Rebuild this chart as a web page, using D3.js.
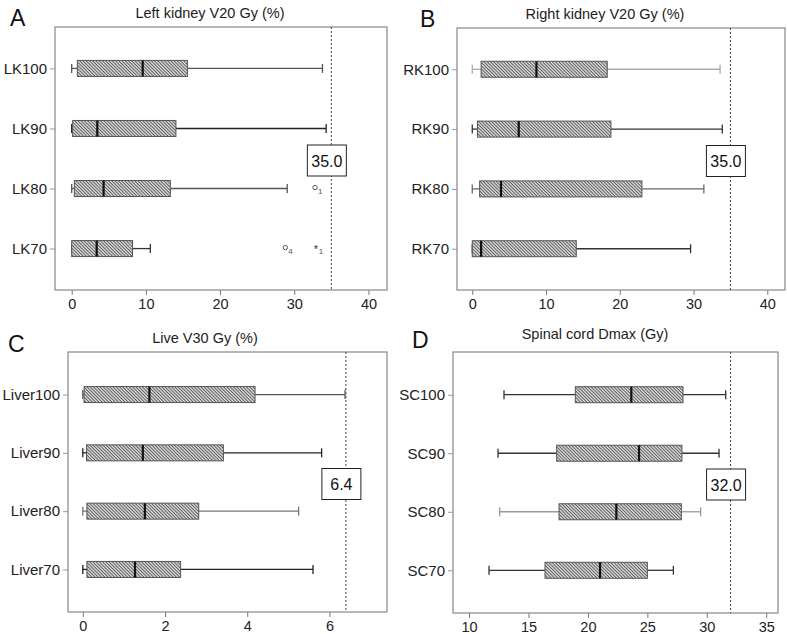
<!DOCTYPE html>
<html><head><meta charset="utf-8">
<script src="https://cdn.jsdelivr.net/npm/d3@7"></script>
<style>
body{margin:0;background:#fff;}
svg{display:block;font-family:"Liberation Sans",Arial,Helvetica,sans-serif;}
</style></head>
<body>
<svg id="chart" width="787" height="634"></svg>
<script>
// ---- Data ----
const lkCategories = ["LK100","LK90","LK80","LK70"];
const lkStats = [ // [min, q1, median, q3, max]
  [0, 0.76, 9.57, 15.6, 33.8],
  [0, 0.13, 3.45, 14.05, 34.3],
  [0, 0.35, 4.3, 13.3, 29.05],
  [0, 0.0, 3.37, 8.2, 10.6]
];
const lkOutliers = [ // [category, value, marker, label]
  ["LK80", 32.8, "o", "1"],
  ["LK70", 28.8, "o", "4"],
  ["LK70", 32.9, "*", "1"]
];
const rkCategories = ["RK100","RK90","RK80","RK70"];
const rkStats = [
  [0, 1.2, 8.7, 18.3, 33.6],
  [0, 0.7, 6.3, 18.8, 33.9],
  [0, 1.0, 3.9, 23.0, 31.4],
  [0, 0.0, 1.2, 14.1, 29.6]
];
const liverCategories = ["Liver100","Liver90","Liver80","Liver70"];
const liverStats = [
  [0, 0.03, 1.62, 4.19, 6.38],
  [0, 0.09, 1.46, 3.42, 5.81],
  [0, 0.10, 1.51, 2.82, 5.25],
  [0, 0.10, 1.27, 2.38, 5.60]
];
const scCategories = ["SC100","SC90","SC80","SC70"];
const scStats = [
  [12.94, 18.94, 23.65, 28.0, 31.59],
  [12.44, 17.37, 24.3, 27.91, 31.03],
  [12.58, 17.57, 22.39, 27.86, 29.48],
  [11.68, 16.39, 21.02, 25.0, 27.19]
];
const thresholds = [35.0, 35.0, 6.4, 32.0];
const titles = ["Left kidney V20 Gy (%)","Right kidney V20 Gy (%)","Live V30 Gy (%)","Spinal cord Dmax (Gy)"];
const letters = ["A","B","C","D"];
const kidneyTicks = [0,10,20,30,40];
const liverTicks = [0,2,4,6];
const scTicks = [10,15,20,25,30,35];

// ---- Layout (styles/positions) ----
const layouts = [
  {x0:55, x1:387, y0:27, y1:290, dom:[-2.25,42.5], pad:0.69, letterX:10, letterY:26, titleX:210, titleY:18},
  {x0:457, x1:785, y0:28, y1:290, dom:[-2.07,42.4], pad:0.69, letterX:420, letterY:27, titleX:605, titleY:19},
  {x0:68, x1:387, y0:352, y1:612, dom:[-0.36,7.4], pad:0.73, letterX:8, letterY:352, titleX:205, titleY:343},
  {x0:453, x1:778, y0:352, y1:613, dom:[8.65,35.99], pad:0.73, letterX:412, letterY:348, titleX:595, titleY:339}
];
const whiskerColors = [
  ["#555","#222","#555","#333"],
  ["#aaa","#333","#666","#333"],
  ["#555","#222","#777","#222"],
  ["#333","#333","#999","#333"]
];

const panels = [
  {cats: lkCategories, stats: lkStats, outliers: lkOutliers, ticks: kidneyTicks},
  {cats: rkCategories, stats: rkStats, outliers: [], ticks: kidneyTicks},
  {cats: liverCategories, stats: liverStats, outliers: [], ticks: liverTicks},
  {cats: scCategories, stats: scStats, outliers: [], ticks: scTicks}
];

const svg = d3.select("#chart");
const defs = svg.append("defs");
const pat = defs.append("pattern").attr("id","hatch")
  .attr("patternUnits","userSpaceOnUse").attr("width",2.3).attr("height",2.3)
  .attr("patternTransform","rotate(45)");
pat.append("rect").attr("width",2.3).attr("height",2.3).attr("fill","#e4e4e4");
pat.append("rect").attr("width",2.3).attr("height",1.0).attr("fill","#555");

panels.forEach((p, i) => {
  const L = layouts[i];
  const g = svg.append("g");
  const x = d3.scaleLinear().domain(L.dom).range([L.x0, L.x1]);
  const y = d3.scalePoint().domain(p.cats).range([L.y0, L.y1]).padding(L.pad);

  svg.append("text").attr("x", L.letterX).attr("y", L.letterY)
    .attr("font-size", 23).attr("fill","#111").text(letters[i]);
  svg.append("text").attr("x", L.titleX).attr("y", L.titleY)
    .attr("text-anchor","middle").attr("font-size", 14.5).attr("fill","#222").text(titles[i]);

  const xa = g.append("g").attr("transform",`translate(0,${L.y1})`)
    .call(d3.axisBottom(x).tickValues(p.ticks).tickSize(5).tickPadding(4).tickFormat(d3.format("d")));
  xa.select(".domain").remove();
  xa.selectAll("line").attr("stroke","#777");
  xa.selectAll("text").attr("font-size",14.5).attr("fill","#222").attr("font-family","Liberation Sans, Arial, sans-serif");

  const ya = g.append("g").attr("transform",`translate(${L.x0},0)`)
    .call(d3.axisLeft(y).tickSize(5).tickPadding(3));
  ya.select(".domain").remove();
  ya.selectAll("line").attr("stroke","#999");
  ya.selectAll("text").attr("font-size",15).attr("fill","#222").attr("font-family","Liberation Sans, Arial, sans-serif");

  g.append("rect").attr("x",L.x0).attr("y",L.y0).attr("width",L.x1-L.x0).attr("height",L.y1-L.y0)
    .attr("fill","none").attr("stroke","#888").attr("stroke-width",1.2);

  const tx = x(thresholds[i]);
  g.append("line").attr("x1",tx).attr("x2",tx).attr("y1",L.y0).attr("y2",L.y1)
    .attr("stroke","#444").attr("stroke-width",1).attr("stroke-dasharray","2,2");

  const bh = 16, cap = 9;
  p.stats.forEach((s, j) => {
    const cy = y(p.cats[j]);
    const wc = whiskerColors[i][j];
    const [mn,q1,md,q3,mx] = s;
    g.append("line").attr("x1",x(mn)).attr("x2",x(q1)).attr("y1",cy).attr("y2",cy).attr("stroke",wc).attr("stroke-width",1.3);
    g.append("line").attr("x1",x(q3)).attr("x2",x(mx)).attr("y1",cy).attr("y2",cy).attr("stroke",wc).attr("stroke-width",1.3);
    g.append("line").attr("x1",x(mn)).attr("x2",x(mn)).attr("y1",cy-cap/2).attr("y2",cy+cap/2).attr("stroke",wc).attr("stroke-width",1.3);
    g.append("line").attr("x1",x(mx)).attr("x2",x(mx)).attr("y1",cy-cap/2).attr("y2",cy+cap/2).attr("stroke",wc).attr("stroke-width",1.3);
    g.append("rect").attr("x",x(q1)).attr("y",cy-bh/2).attr("width",x(q3)-x(q1)).attr("height",bh)
      .attr("fill","url(#hatch)").attr("stroke","#555").attr("stroke-width",1);
    g.append("line").attr("x1",x(md)).attr("x2",x(md)).attr("y1",cy-bh/2).attr("y2",cy+bh/2)
      .attr("stroke","#111").attr("stroke-width",2.2);
  });

  p.outliers.forEach(o => {
    const cy = y(o[0]), ox = x(o[1]);
    if (o[2] === "o") {
      g.append("circle").attr("cx",ox).attr("cy",cy-1).attr("r",2.2).attr("fill","none").attr("stroke","#555").attr("stroke-width",1);
    } else {
      g.append("text").attr("x",ox).attr("y",cy+4).attr("text-anchor","middle").attr("font-size",11).attr("fill","#333").text("*");
    }
    g.append("text").attr("x",ox+3).attr("y",cy+5).attr("font-size",8).attr("fill","#555").text(o[3]);
  });

  const by = (y(p.cats[1]) + y(p.cats[2]))/2 + 2;
  g.append("rect").attr("x",tx-24).attr("y",by-15.5).attr("width",39).attr("height",31)
    .attr("fill","#fff").attr("stroke","#222").attr("stroke-width",1);
  g.append("text").attr("x",tx-4.5).attr("y",by+6).attr("text-anchor","middle")
    .attr("font-size",16).attr("fill","#111").text(d3.format(".1f")(thresholds[i]));
});
</script>
</body></html>
